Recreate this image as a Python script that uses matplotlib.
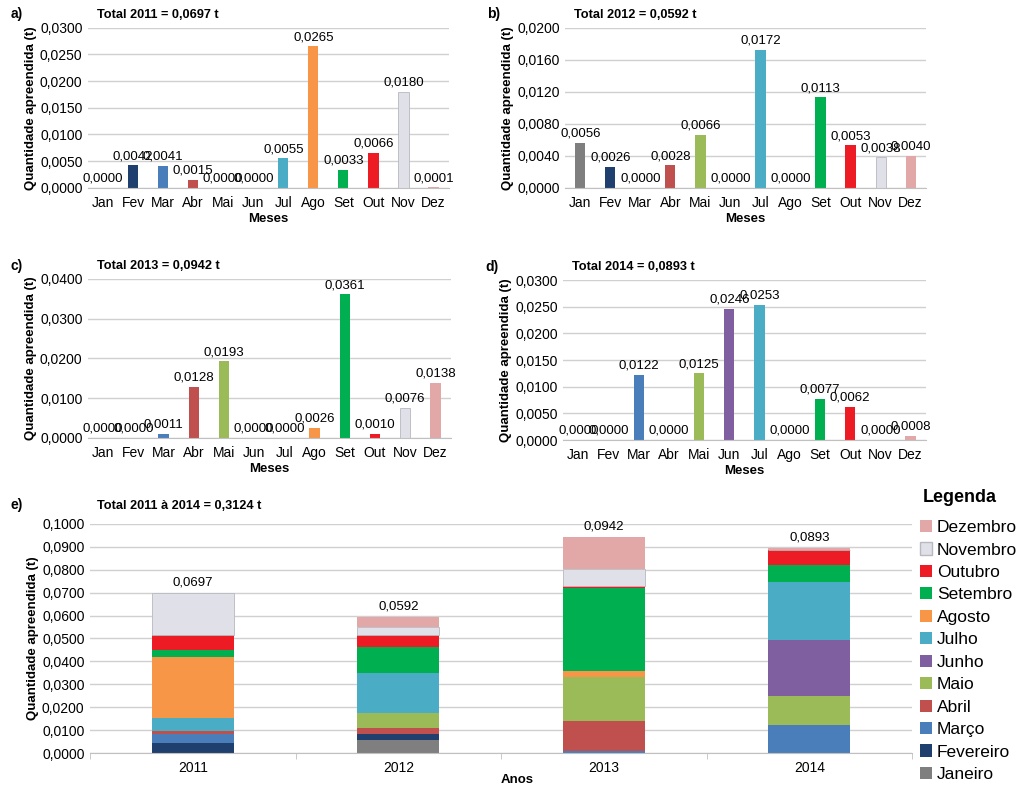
import numpy as np
import matplotlib.pyplot as plt
from matplotlib.ticker import FuncFormatter, MultipleLocator
from matplotlib.patches import Patch

meses = ['Jan', 'Fev', 'Mar', 'Abr', 'Mai', 'Jun', 'Jul', 'Ago', 'Set', 'Out', 'Nov', 'Dez']
meses_longos = ['Janeiro', 'Fevereiro', 'Março', 'Abril', 'Maio', 'Junho',
                'Julho', 'Agosto', 'Setembro', 'Outubro', 'Novembro', 'Dezembro']
anos = ['2011', '2012', '2013', '2014']

q2011 = [0.0000, 0.0042, 0.0041, 0.0015, 0.0000, 0.0000, 0.0055, 0.0265, 0.0033, 0.0066, 0.0180, 0.0001]
q2012 = [0.0056, 0.0026, 0.0000, 0.0028, 0.0066, 0.0000, 0.0172, 0.0000, 0.0113, 0.0053, 0.0038, 0.0040]
q2013 = [0.0000, 0.0000, 0.0011, 0.0128, 0.0193, 0.0000, 0.0000, 0.0026, 0.0361, 0.0010, 0.0076, 0.0138]
q2014 = [0.0000, 0.0000, 0.0122, 0.0000, 0.0125, 0.0246, 0.0253, 0.0000, 0.0077, 0.0062, 0.0000, 0.0008]
totais = [0.0697, 0.0592, 0.0942, 0.0893]

cores = ['#7f7f7f', '#1f3f6e', '#4a7ebb', '#c0504d', '#9bbb59', '#7f5fa0',
         '#4bacc6', '#f79646', '#00b050', '#ed1c24', '#e0e0e8', '#e2a8a8']

fmt = FuncFormatter(lambda v, p: ('%.4f' % v).replace('.', ','))
plt.rcParams['font.family'] = ['Liberation Sans', 'DejaVu Sans']

fig = plt.figure(figsize=(10.24, 7.89), dpi=100)


def estilo(ax):
    ax.yaxis.set_major_formatter(fmt)
    ax.grid(axis='y', color='#d0d0d0', linewidth=1)
    ax.set_axisbelow(True)
    for s in ['top', 'right', 'left']:
        ax.spines[s].set_visible(False)
    ax.spines['bottom'].set_color('#c0c0c0')
    ax.tick_params(axis='y', length=0, labelsize=10, pad=4)
    ax.tick_params(axis='x', length=0, labelsize=10, pad=6)
    ax.set_ylabel('Quantidade apreendida (t)', fontsize=9.5, fontweight='bold', labelpad=2)


paineis = [
    ('a)', 'Total 2011 = 0,0697 t', q2011, [0.086, 0.762, 0.352, 0.2028], 0.03, 0.005),
    ('b)', 'Total 2012 = 0,0592 t', q2012, [0.552, 0.762, 0.352, 0.2028], 0.02, 0.004),
    ('c)', 'Total 2013 = 0,0942 t', q2013, [0.086, 0.4449, 0.354, 0.2015], 0.04, 0.01),
    ('d)', 'Total 2014 = 0,0893 t', q2014, [0.550, 0.4423, 0.354, 0.2028], 0.03, 0.005),
]

x = np.arange(12)
for letra, titulo, vals, pos, ymax, passo in paineis:
    ax = fig.add_axes(pos)
    ax.bar(x, vals, width=0.34, color=cores,
           edgecolor=['none'] * 10 + ['#b8b8c0', 'none'], linewidth=0.6)
    ax.set_xlim(-0.5, 11.5)
    ax.set_ylim(0, ymax)
    ax.yaxis.set_major_locator(MultipleLocator(passo))
    ax.set_xticks(x)
    ax.set_xticklabels(meses)
    estilo(ax)
    ax.set_xlabel('Meses', fontsize=9.5, fontweight='bold', labelpad=2)
    for xi, v in zip(x, vals):
        ax.text(xi, v + ymax * 0.02, ('%.4f' % v).replace('.', ','),
                ha='center', va='bottom', fontsize=9.5)
    fig.text(pos[0] - 0.076, pos[1] + pos[3] + 0.012, letra, fontsize=10, fontweight='bold')
    fig.text(pos[0] + 0.009, pos[1] + pos[3] + 0.013, titulo, fontsize=9.2, fontweight='bold')

# painel e
ax = fig.add_axes([0.088, 0.0456, 0.8027, 0.2903])
dados = np.array([q2011, q2012, q2013, q2014])
xa = np.arange(4)
base = np.zeros(4)
for m in range(12):
    ax.bar(xa, dados[:, m], bottom=base, width=0.4, color=cores[m],
           edgecolor='#b8b8c0' if m == 10 else 'none', linewidth=0.6)
    base += dados[:, m]
ax.set_xlim(-0.5, 3.5)
ax.set_ylim(0, 0.1)
ax.yaxis.set_major_locator(MultipleLocator(0.01))
ax.set_xticks(xa)
ax.set_xticklabels(anos)
estilo(ax)
ax.set_xticks(np.arange(5) - 0.5, minor=True)
ax.tick_params(axis='x', which='minor', length=4, color='#c0c0c0')
ax.set_xlabel('Anos', fontsize=9.5, fontweight='bold', labelpad=0)
ax.xaxis.set_label_coords(0.52, -0.09)
for xi, t in zip(xa, totais):
    ax.text(xi, t + 0.002, ('%.4f' % t).replace('.', ','), ha='center', va='bottom', fontsize=9.5)
fig.text(0.010, 0.355, 'e)', fontsize=10, fontweight='bold')
fig.text(0.095, 0.355, 'Total 2011 à 2014 = 0,3124 t', fontsize=9.2, fontweight='bold')

handles = [Patch(facecolor=cores[m], edgecolor='#b8b8c0' if m == 10 else 'none', label=meses_longos[m])
           for m in range(11, -1, -1)]
leg = fig.legend(handles=handles, loc='upper left', bbox_to_anchor=(0.898, 0.341),
                 frameon=False, fontsize=12.5, handlelength=0.7, handleheight=0.7,
                 handletextpad=0.3, labelspacing=0.42, borderaxespad=0, borderpad=0)
fig.text(0.901, 0.37, 'Legenda', fontsize=13, fontweight='bold', va='center')

fig.savefig('out.png', dpi=100)
